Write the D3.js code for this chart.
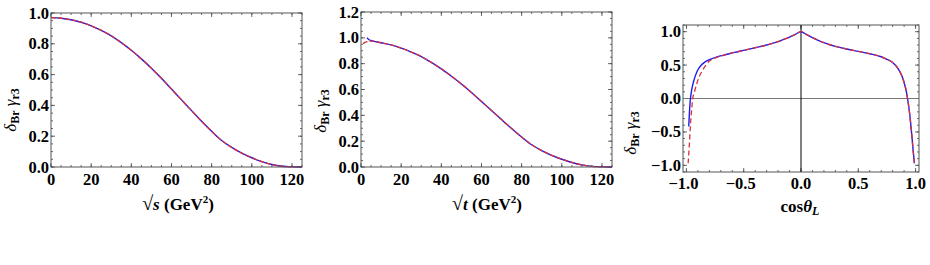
<!DOCTYPE html>
<meta charset="utf-8">
<script src="https://d3js.org/d3.v7.min.js"></script>
<style>
  body { margin: 0; background: #fff; }
</style>
<div id="my_dataviz"></div>
<script>

// panel 1 : sqrt(s)
var sX = [0, 5, 10, 15, 20, 25, 30, 35, 40, 45, 50, 55, 60, 65, 70, 75, 80, 85, 90, 95, 100, 105, 110, 115, 120, 125];
var sY = [0.97, 0.966, 0.956, 0.94, 0.917, 0.887, 0.852, 0.808, 0.758, 0.702, 0.642, 0.576, 0.506, 0.436, 0.366, 0.297, 0.232, 0.172, 0.127, 0.09, 0.06, 0.035, 0.016, 0.005, 0.001, 0.0];

// panel 2 : sqrt(t), blue has a small kink at the start, red starts lower
var tXblue = [3, 4, 6, 10, 15, 20, 25, 30, 35, 40, 45, 50, 55, 60, 65, 70, 75, 80, 85, 90, 95, 100, 105, 110, 115, 120, 125];
var tYblue = [1.0, 0.985, 0.975, 0.962, 0.945, 0.92, 0.89, 0.855, 0.81, 0.76, 0.703, 0.643, 0.577, 0.507, 0.437, 0.367, 0.298, 0.232, 0.172, 0.127, 0.09, 0.06, 0.035, 0.016, 0.005, 0.001, 0.0];
var tXred = [1, 2, 3, 4, 6, 10, 15, 20, 25, 30, 35, 40, 45, 50, 55, 60, 65, 70, 75, 80, 85, 90, 95, 100, 105, 110, 115, 120, 125];
var tYred = [0.955, 0.965, 0.97, 0.975, 0.975, 0.962, 0.945, 0.92, 0.89, 0.855, 0.81, 0.76, 0.703, 0.643, 0.577, 0.507, 0.437, 0.367, 0.298, 0.232, 0.172, 0.127, 0.09, 0.06, 0.035, 0.016, 0.005, 0.001, 0.0];

// panel 3 : cos(theta_L)
var cXblue = [-0.98, -0.975, -0.97, -0.965, -0.955, -0.94, -0.92, -0.9, -0.87, -0.84, -0.8, -0.72, -0.66, -0.58, -0.5, -0.4, -0.3, -0.25, -0.2, -0.15, -0.1, -0.05, 0,
              0.05, 0.1, 0.15, 0.2, 0.25, 0.3, 0.4, 0.5, 0.6, 0.7, 0.75, 0.8, 0.85, 0.88, 0.9, 0.92, 0.93, 0.95, 0.96, 0.97, 0.98, 0.99];
var cYblue = [-0.42, -0.25, -0.1, 0.0, 0.12, 0.24, 0.35, 0.43, 0.5, 0.545, 0.58, 0.63, 0.655, 0.69, 0.72, 0.76, 0.8, 0.825, 0.85, 0.885, 0.92, 0.96, 1.0,
              0.955, 0.91, 0.87, 0.835, 0.805, 0.78, 0.74, 0.705, 0.67, 0.625, 0.585, 0.54, 0.44, 0.34, 0.24, 0.1, 0.0, -0.25, -0.42, -0.6, -0.8, -0.97];
var cXred = [-0.985, -0.975, -0.965, -0.955, -0.945, -0.93, -0.91, -0.89, -0.86, -0.83, -0.8, -0.76, -0.72, -0.66, -0.58, -0.5, -0.4, -0.3, -0.25, -0.2, -0.15, -0.1, -0.05, 0,
             0.05, 0.1, 0.15, 0.2, 0.25, 0.3, 0.4, 0.5, 0.6, 0.7, 0.75, 0.8, 0.85, 0.88, 0.9, 0.92, 0.93, 0.95, 0.96, 0.97, 0.98, 0.99];
var cYred = [-0.97, -0.7, -0.4, -0.18, 0.0, 0.1, 0.22, 0.32, 0.42, 0.5, 0.56, 0.6, 0.625, 0.655, 0.69, 0.72, 0.76, 0.8, 0.825, 0.85, 0.885, 0.92, 0.96, 1.0,
             0.955, 0.91, 0.87, 0.835, 0.805, 0.78, 0.74, 0.705, 0.67, 0.625, 0.585, 0.54, 0.44, 0.34, 0.24, 0.1, 0.0, -0.25, -0.42, -0.6, -0.8, -0.97];

var ticks1x = [0, 20, 40, 60, 80, 100, 120];
var ticks1y = [0.0, 0.2, 0.4, 0.6, 0.8, 1.0];
var ticks2y = [0.0, 0.2, 0.4, 0.6, 0.8, 1.0, 1.2];
var ticks3x = [-1.0, -0.5, 0.0, 0.5, 1.0];
var ticks3y = [-1.0, -0.5, 0.0, 0.5, 1.0];

var blue = "#1c1cf0", red = "#d9303a";
var serif = "'Liberation Serif', 'DejaVu Serif', Times, serif";

var svg = d3.select("#my_dataviz").append("svg")
    .attr("width", 930).attr("height", 265)
    .attr("font-family", serif).attr("font-weight", "bold");

function fmt(d) { return (d < 0 ? "\u2212" : "") + Math.abs(d).toFixed(1); }

function panel(o) {
  var x = d3.scaleLinear().domain(o.xdom).range([o.left, o.right]);
  var y = d3.scaleLinear().domain(o.ydom).range([o.bottom, o.top]);
  var g = svg.append("g");

  // minor + major ticks, inward, on all four sides
  var minorX = d3.range(o.xminorStart, o.xdom[1] + 1e-9, o.xminor);
  var minorY = d3.range(o.yminorStart, o.ydom[1] + 1e-9, o.yminor);

  var tk = g.append("g").attr("stroke", "#444").attr("stroke-width", 0.8);
  minorX.forEach(function(v){
    tk.append("line").attr("x1", x(v)).attr("x2", x(v)).attr("y1", o.bottom).attr("y2", o.bottom - 2);
    tk.append("line").attr("x1", x(v)).attr("x2", x(v)).attr("y1", o.top).attr("y2", o.top + 2);
  });
  minorY.forEach(function(v){
    tk.append("line").attr("y1", y(v)).attr("y2", y(v)).attr("x1", o.left).attr("x2", o.left + 2);
    tk.append("line").attr("y1", y(v)).attr("y2", y(v)).attr("x1", o.right).attr("x2", o.right - 2);
  });
  o.xticks.forEach(function(v){
    tk.append("line").attr("x1", x(v)).attr("x2", x(v)).attr("y1", o.bottom).attr("y2", o.bottom - 4);
    tk.append("line").attr("x1", x(v)).attr("x2", x(v)).attr("y1", o.top).attr("y2", o.top + 4);
  });
  o.yticks.forEach(function(v){
    tk.append("line").attr("y1", y(v)).attr("y2", y(v)).attr("x1", o.left).attr("x2", o.left + 4);
    tk.append("line").attr("y1", y(v)).attr("y2", y(v)).attr("x1", o.right).attr("x2", o.right - 4);
  });

  // axis lines in panel 3
  if (o.zero) {
    g.append("line").attr("x1", o.left).attr("x2", o.right).attr("y1", y(0)).attr("y2", y(0))
      .attr("stroke", "#777").attr("stroke-width", 1.2);
    g.append("line").attr("x1", x(0)).attr("x2", x(0)).attr("y1", o.top).attr("y2", o.bottom)
      .attr("stroke", "#000").attr("stroke-width", 1);
  }

  // curves
  var line = d3.line().curve(d3.curveMonotoneX).x(function(d){ return x(d[0]); }).y(function(d){ return y(d[1]); });
  g.append("path").datum(d3.zip(o.bx, o.by)).attr("d", line)
    .attr("fill", "none").attr("stroke", blue).attr("stroke-width", 1.4);
  g.append("path").datum(d3.zip(o.rx, o.ry)).attr("d", line)
    .attr("fill", "none").attr("stroke", red).attr("stroke-width", 1.3)
    .attr("stroke-dasharray", o.dash);

  // frame
  g.append("rect").attr("x", o.left).attr("y", o.top)
    .attr("width", o.right - o.left).attr("height", o.bottom - o.top)
    .attr("fill", "none").attr("stroke", "#555").attr("stroke-width", 1);

  // tick labels
  g.selectAll(".xl").data(o.xticks).enter().append("text")
    .attr("x", function(d){ return x(d) + (d < 0 ? -3 : 0); })
    .attr("y", o.bottom + o.xlabOff)
    .attr("text-anchor", "middle").attr("font-size", 16.5)
    .text(o.xfmt);
  g.selectAll(".yl").data(o.yticks).enter().append("text")
    .attr("x", o.left - 2).attr("y", function(d){ return y(d) + 5.5; })
    .attr("text-anchor", "end").attr("font-size", 16.5)
    .text(fmt);

  // y label
  var yl = g.append("text")
    .attr("transform", "translate(" + o.ylx + "," + o.yly + ") rotate(-90)")
    .attr("text-anchor", "middle").attr("font-size", 17);
  yl.append("tspan").attr("font-style", "italic").attr("font-weight", "normal").text("\u03b4");
  yl.append("tspan").attr("dy", 3).attr("font-size", 12).text("Br");
  yl.append("tspan").attr("dy", -3).text(" ");
  yl.append("tspan").attr("font-style", "italic").attr("font-weight", "normal").text("\u03b3");
  yl.append("tspan").attr("dy", 3).attr("font-size", 12).text("r3");

  // x label
  var xl = g.append("text").attr("x", o.xlx).attr("y", o.xly)
    .attr("text-anchor", "middle").attr("font-size", 17);
  o.xlabel(xl);
}

function rootLabel(v) {
  return function(t) {
    t.append("tspan").attr("font-size", 20).text("\u221a");
    t.append("tspan").attr("font-style", "italic").text(v);
    t.append("tspan").text(" (GeV");
    t.append("tspan").attr("dy", -7).attr("font-size", 11).text("2");
    t.append("tspan").attr("dy", 7).text(")");
  };
}

panel({
  left: 51, right: 302, top: 13, bottom: 167,
  xdom: [0, 125], ydom: [0, 1.0], xminor: 5, yminor: 0.05, xminorStart: 0, yminorStart: 0,
  xticks: ticks1x, yticks: ticks1y, xfmt: function(d){ return d; }, xlabOff: 18,
  bx: sX, by: sY, rx: sX, ry: sY, dash: "5,2",
  ylx: 16, yly: 110, xlx: 178, xly: 210, xlabel: rootLabel("s")
});

panel({
  left: 361, right: 612, top: 12, bottom: 167,
  xdom: [0, 125], ydom: [0, 1.2], xminor: 5, yminor: 0.05, xminorStart: 0, yminorStart: 0,
  xticks: ticks1x, yticks: ticks2y, xfmt: function(d){ return d; }, xlabOff: 18,
  bx: tXblue, by: tYblue, rx: tXred, ry: tYred, dash: "5,2",
  ylx: 326, yly: 111, xlx: 487, xly: 210, xlabel: rootLabel("t")
});

panel({
  left: 683, right: 919, top: 25, bottom: 172,
  xdom: [-1.03, 1.03], ydom: [-1.1, 1.1], xminor: 0.1, yminor: 0.1,
  xminorStart: -1.0, yminorStart: -1.1,
  xticks: ticks3x, yticks: ticks3y, xfmt: fmt, xlabOff: 17,
  bx: cXblue, by: cYblue, rx: cXred, ry: cYred, dash: "5,3", zero: true,
  ylx: 636, yly: 133, xlx: 800, xly: 212,
  xlabel: function(t) {
    t.append("tspan").text("cos");
    t.append("tspan").attr("font-style", "italic").text("\u03b8");
    t.append("tspan").attr("dy", 3).attr("font-style", "italic").attr("font-size", 12).text("L");
  }
});

</script>
